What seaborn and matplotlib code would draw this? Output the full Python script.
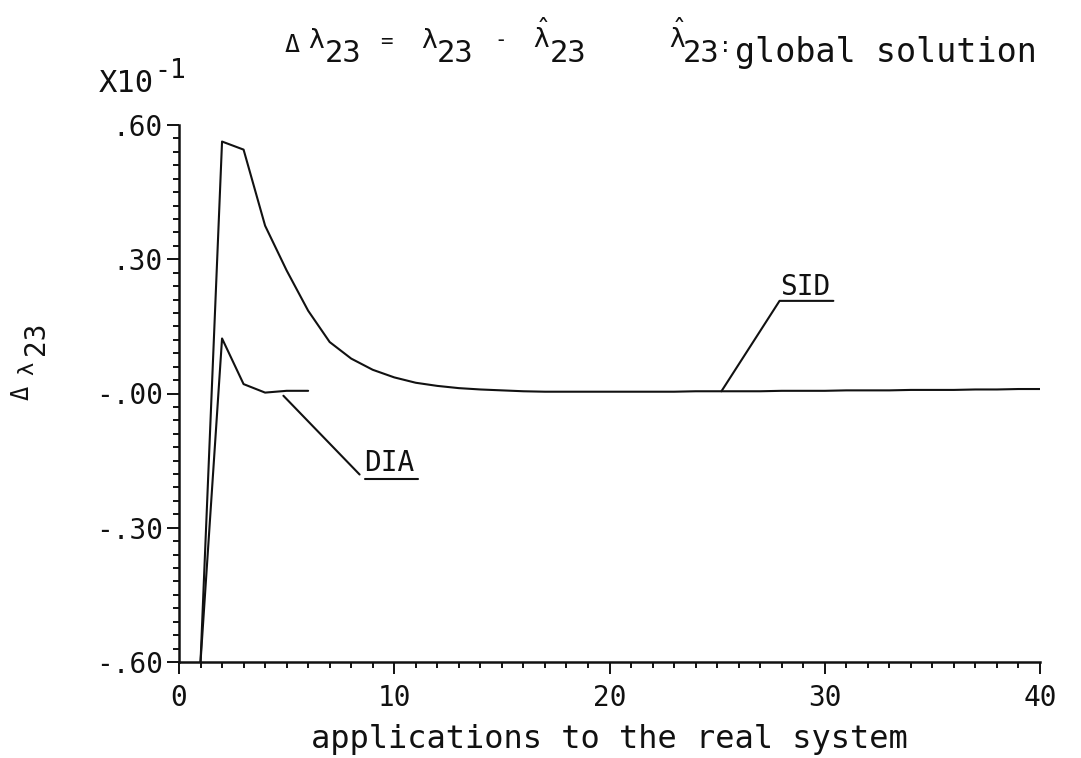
import matplotlib
matplotlib.use("Agg")
import matplotlib.pyplot as plt
from matplotlib.ticker import FixedLocator, MultipleLocator
import numpy as np
import pandas as pd
import seaborn as sns

# Deviation of lambda_23 from the global solution, in units of 1e-1
sid_x = list(range(1, 41))
sid_y = [-0.600, 0.563, 0.545, 0.375, 0.275, 0.185, 0.115, 0.078, 0.053, 0.036,
         0.024, 0.017, 0.012, 0.009, 0.007, 0.005, 0.004, 0.004, 0.004, 0.004,
         0.004, 0.004, 0.004, 0.005, 0.005, 0.005, 0.005, 0.006, 0.006, 0.006,
         0.007, 0.007, 0.007, 0.008, 0.008, 0.008, 0.009, 0.009, 0.010, 0.010]

dia_x = [1, 2, 3, 4, 5, 6]
dia_y = [-0.600, 0.123, 0.021, 0.002, 0.006, 0.006]

x_ticks = [0, 10, 20, 30, 40]
x_tick_labels = ["0", "10", "20", "30", "40"]
y_ticks = [-0.60, -0.30, 0.00, 0.30, 0.60]
y_tick_labels = ["-.60", "-.30", "-.00", ".30", ".60"]

x_label = "applications to the real system"

W, H = 1081, 758
FONT = ["DejaVu Sans Mono", "DejaVu Sans"]
INK = "#111111"

sns.set_theme(style="ticks")
plt.rcParams["font.family"] = FONT
plt.rcParams["axes.unicode_minus"] = False
plt.rcParams["mathtext.fontset"] = "dejavusans"

fig = plt.figure(figsize=(W / 100, H / 100), dpi=100)
fig.patch.set_facecolor("white")

# axes box in pixels: left, right, top, bottom
L, R, T, B = 179, 1040, 125, 662
ax = fig.add_axes([L / W, 1 - B / H, (R - L) / W, (B - T) / H])
ax.set_facecolor("white")

sid = pd.DataFrame({"x": sid_x, "y": sid_y})
dia = pd.DataFrame({"x": dia_x, "y": dia_y})
sns.lineplot(data=sid, x="x", y="y", ax=ax, color=INK, linewidth=1.5,
             estimator=None, sort=False)
sns.lineplot(data=dia, x="x", y="y", ax=ax, color=INK, linewidth=1.5,
             estimator=None, sort=False)

ax.set_xlim(0, 40)
ax.set_ylim(-0.6, 0.6)
sns.despine(ax=ax)
for side in ("left", "bottom"):
    ax.spines[side].set_linewidth(1.8)
    ax.spines[side].set_color(INK)

ax.xaxis.set_major_locator(FixedLocator(x_ticks))
ax.set_xticklabels(x_tick_labels)
ax.xaxis.set_minor_locator(MultipleLocator(1))
ax.yaxis.set_major_locator(FixedLocator(y_ticks))
ax.set_yticklabels(y_tick_labels)
ax.yaxis.set_minor_locator(MultipleLocator(0.03))

ax.tick_params(axis="both", which="major", direction="out", length=8.5,
               width=1.4, color=INK, labelcolor=INK, labelsize=20)
ax.tick_params(axis="both", which="minor", direction="out", length=4.5,
               width=1.4, color=INK)
ax.tick_params(axis="x", which="major", pad=7)
ax.tick_params(axis="y", which="major", pad=3)

ax.set_xlabel(x_label, fontsize=23, color=INK)
ax.xaxis.label.set_va("baseline")
ax.xaxis.set_label_coords(0.5, (B - 748) / (B - T))
ax.set_ylabel("")

# curve labels with leader lines
line_kw = dict(color=INK, linewidth=1.5, clip_on=False)
sid_anchor, sid_elbow, sid_end = (25.2, 0.005), (27.9, 0.207), (30.4, 0.207)
ax.plot([sid_anchor[0], sid_elbow[0], sid_end[0]],
        [sid_anchor[1], sid_elbow[1], sid_end[1]], **line_kw)
ax.text(27.95, 0.220, "SID", fontsize=20, color=INK, va="baseline")

dia_anchor, dia_leader_end = (4.85, -0.005), (8.39, -0.181)
dia_under = (8.62, 11.1, -0.190)
ax.plot([dia_anchor[0], dia_leader_end[0]], [dia_anchor[1], dia_leader_end[1]], **line_kw)
ax.plot([dia_under[0], dia_under[1]], [dia_under[2], dia_under[2]], **line_kw)
ax.text(8.62, -0.174, "DIA", fontsize=20, color=INK, va="baseline")


def ftext(px, py, s, size, **kw):
    """Place text at pixel coordinates measured from the top-left corner."""
    kw.setdefault("va", "baseline")
    kw.setdefault("ha", "left")
    fig.text(px / W, 1 - py / H, s, fontsize=size, color=INK, **kw)


HAT_LAMBDA = r"$\mathrm{\hat{\lambda}}$"

# heading: delta lambda_23 = lambda_23 - hat lambda_23, hat lambda_23: global solution
ftext(285, 52, "Δ", 18)
ftext(308, 48, "λ", 19)
ftext(325, 62, "23", 22)
ftext(380, 48, "=", 15)
ftext(421, 48, "λ", 19)
ftext(437, 62, "23", 22)
ftext(494, 46, "-", 15)
ftext(533, 48, HAT_LAMBDA, 19)
ftext(550, 62, "23", 22)
ftext(669, 48, HAT_LAMBDA, 19)
ftext(683, 62, "23", 22)
ftext(719, 52, ":", 15)
ftext(735, 62, "global solution", 24)

# y-axis title and scale factor
ftext(22, 393, "Δ", 17, rotation=90, ha="center", va="center")
ftext(27, 368, "λ", 16, rotation=90, ha="center", va="center")
ftext(36, 338, "23", 20, rotation=90, ha="center", va="center")
ftext(99, 92, "X10", 22)
ftext(154, 78, "-1", 19)

fig.savefig("out.png", dpi=100, facecolor="white")
